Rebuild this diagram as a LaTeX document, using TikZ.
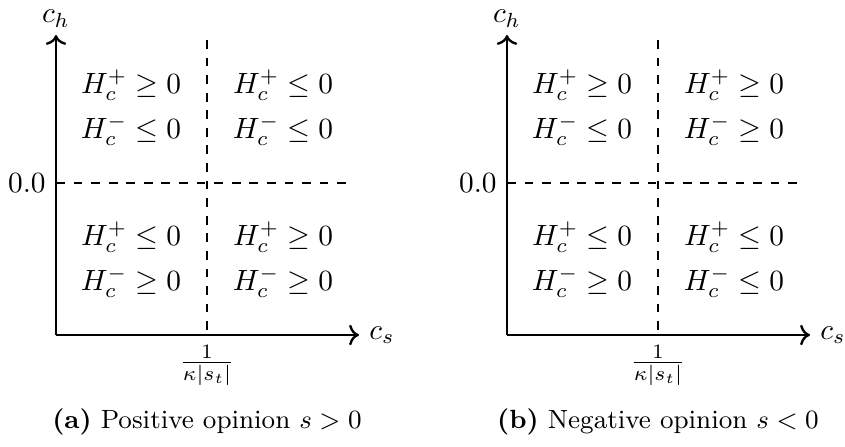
\documentclass[tikz,border=0pt]{standalone}
\usetikzlibrary{arrows.meta}
\begin{document}
\begin{tikzpicture}[x=0.3413pt,y=-0.3413pt,
  axisline/.style={thick,->},
  guide/.style={semithick,dashed},
  lbl/.style={anchor=base,inner sep=0pt},
  capt/.style={anchor=base,inner sep=0pt,font=\small}]
\useasboundingbox (0,0) rectangle (845,447);
% ---------- panel (a)
\coordinate (aO) at (56,335);
\coordinate (aY) at (56,35);
\coordinate (aX) at (359,335);
\coordinate (aT) at (207,335);
\coordinate (aTt) at (207,40);
\coordinate (aZ) at (56,183);
\coordinate (aZe) at (352,183);
\draw[guide] (aZ) -- (aZe);
\draw[guide] (aTt) -- (aT);
\draw[axisline] (aO) -- (aY);
\draw[axisline] (aO) -- (aX);
\node[above,inner sep=2.5pt] (ach) at (aY) {$c_h$};
\node[right] (acs) at (aX) {$c_s$};
\node[left] (azero) at (aZ) {$0.0$};
\node[below] (atick) at (aT) {$\frac{1}{\kappa|s_t|}$};
\node[lbl] (a11) at (131,93) {$H_c^+ \geq 0$};
\node[lbl] (a12) at (131,138) {$H_c^- \leq 0$};
\node[lbl] (a21) at (283,93) {$H_c^+ \leq 0$};
\node[lbl] (a22) at (283,138) {$H_c^- \leq 0$};
\node[lbl] (a31) at (131,245) {$H_c^+ \leq 0$};
\node[lbl] (a32) at (131,290) {$H_c^- \geq 0$};
\node[lbl] (a41) at (283,245) {$H_c^+ \geq 0$};
\node[lbl] (a42) at (283,290) {$H_c^- \geq 0$};
\node[capt] (acap) at (207,428) {\textbf{(a)} Positive opinion $s>0$};
% ---------- panel (b)
\begin{scope}[shift={(451,0)}]
\coordinate (bO) at (56,335);
\coordinate (bY) at (56,35);
\coordinate (bX) at (359,335);
\coordinate (bT) at (207,335);
\coordinate (bTt) at (207,40);
\coordinate (bZ) at (56,183);
\coordinate (bZe) at (352,183);
\draw[guide] (bZ) -- (bZe);
\draw[guide] (bTt) -- (bT);
\draw[axisline] (bO) -- (bY);
\draw[axisline] (bO) -- (bX);
\node[above,inner sep=2.5pt] (bch) at (bY) {$c_h$};
\node[right] (bcs) at (bX) {$c_s$};
\node[left] (bzero) at (bZ) {$0.0$};
\node[below] (btick) at (bT) {$\frac{1}{\kappa|s_t|}$};
\node[lbl] (b11) at (131,93) {$H_c^+ \geq 0$};
\node[lbl] (b12) at (131,138) {$H_c^- \leq 0$};
\node[lbl] (b21) at (283,93) {$H_c^+ \geq 0$};
\node[lbl] (b22) at (283,138) {$H_c^- \geq 0$};
\node[lbl] (b31) at (131,245) {$H_c^+ \leq 0$};
\node[lbl] (b32) at (131,290) {$H_c^- \geq 0$};
\node[lbl] (b41) at (283,245) {$H_c^+ \leq 0$};
\node[lbl] (b42) at (283,290) {$H_c^- \leq 0$};
\node[capt] (bcap) at (207,428) {\textbf{(b)} Negative opinion $s<0$};
\end{scope}
\end{tikzpicture}
\end{document}
